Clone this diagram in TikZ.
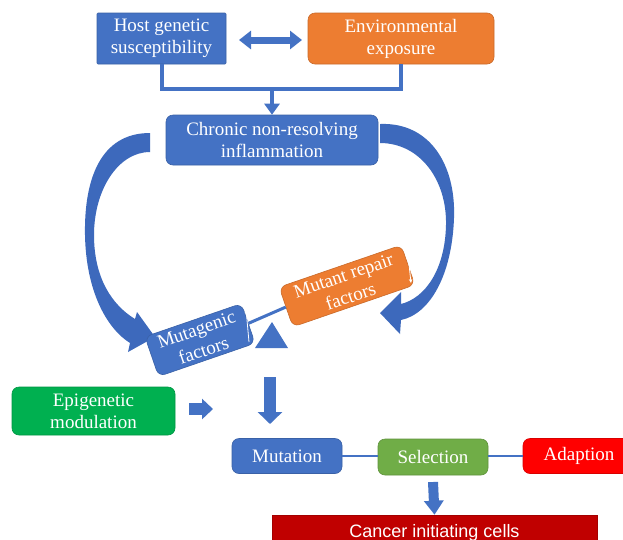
\documentclass[tikz,border=0pt]{standalone}
\usepackage{fontspec}
\setmainfont{Liberation Serif}
\newfontfamily\cancerfont{Liberation Sans}
\usetikzlibrary{arrows.meta}
\definecolor{pblue}{HTML}{4472C4}
\definecolor{dblue}{HTML}{3D69BC}
\definecolor{porange}{HTML}{ED7D31}
\definecolor{pgreen}{HTML}{00B050}
\definecolor{lgreen}{HTML}{70AD47}
\definecolor{pred}{HTML}{FF0000}
\definecolor{dred}{HTML}{C00000}
\begin{document}
\begin{tikzpicture}[x=1pt,y=-1pt,
  box/.style={text=white, align=center, font=\fontsize{19}{22}\selectfont, inner sep=0pt, rounded corners=7pt, line width=0.6pt},
  bluebox/.style={box, fill=pblue, draw=pblue!85!black},
  conn/.style={pblue, line width=4pt},
  blockarrow/.style={pblue, line width=#1},
  whitearrow/.style={white, line width=0.8pt, -{Stealth[length=4pt,width=3.5pt]}}]
\clip (0,0) rectangle (623,539);
\fill[white] (0,0) rectangle (623,539);

% top boxes
\node[bluebox, rounded corners=1pt, minimum width=129pt, minimum height=51pt] (host) at (161.5,38.5) {Host genetic\\susceptibility};
\node[box, fill=porange, draw=porange!85!black, minimum width=186pt, minimum height=51pt] (env) at (401,38.5) {Environmental\\exposure};
\node[bluebox, minimum width=212pt, minimum height=50pt] (chr) at (272,140) {Chronic non-resolving\\inflammation};

\coordinate (dl) at (239,40);
\coordinate (dr) at (302,40);
\draw[pblue, line width=7pt, {Triangle[width=18pt,length=12pt]}-{Triangle[width=18pt,length=12pt]}] (dl) -- (dr);

\draw[conn] (host.south) -- ++(0,25) coordinate (hb) -| (env.south);
\draw[conn, -{Triangle[width=15pt,length=11pt]}] (chr.north |- hb) -- (chr.north);

% curved arrows
\fill[dblue] (150,133) .. controls (100,133) and (84,180) .. (85,235)
  .. controls (86,290) and (106,328) .. (130,343)
  -- (128,352) -- (155,337) -- (137,312) -- (135,319)
  .. controls (112,305) and (94,278) .. (94,235)
  .. controls (94,190) and (118,152) .. (150,152) -- cycle;
\fill[dblue] (380,124) .. controls (430,122) and (456,165) .. (454,218)
  .. controls (452,275) and (430,314) .. (401,320)
  -- (400,334) -- (380,313) -- (401,292) -- (401,304)
  .. controls (425,298) and (445,270) .. (446,225)
  .. controls (447,180) and (420,143) .. (380,143) -- cycle;

% seesaw
\node[bluebox, rotate=19, minimum width=102pt, minimum height=42pt, font=\fontsize{19}{22}\selectfont] (mg) at (200,340) {Mutagenic\\factors};
\node[box, fill=porange, draw=porange!85!black, rotate=19, minimum width=129pt, minimum height=42pt, font=\fontsize{19}{22}\selectfont] (mr) at (347,286) {Mutant repair\\factors};
\draw[pblue, line width=3pt] (mg.east) -- (mr.west);
\fill[pblue] (272,322) -- (288,348) -- (255,348) -- cycle;
\draw[whitearrow] (249,342) -- (246,309);
\draw[whitearrow] (408,255) -- (411,283);

% lower part
\node[box, fill=pgreen, draw=pgreen!85!black, minimum width=163pt, minimum height=48pt] (epi) at (93.5,411) {Epigenetic\\modulation};
\coordinate (ea1) at (189,409);
\coordinate (ea2) at (213,409);
\draw[blockarrow=12pt, -{Triangle[width=20pt,length=11pt]}] (ea1) -- (ea2);
\coordinate (da1) at (270,377);
\coordinate (da2) at (270,424);
\draw[blockarrow=12pt, -{Triangle[width=24pt,length=12pt]}] (da1) -- (da2);

\node[bluebox, minimum width=110pt, minimum height=35pt] (mut) at (287,456) {Mutation};
\node[box, fill=lgreen, draw=lgreen!85!black, minimum width=110pt, minimum height=36pt] (sel) at (433,457) {Selection};
\node[box, fill=pred, draw=pred!85!black, minimum width=112pt, minimum height=35pt] (ada) at (579,456) {Adaption};
\draw[pblue, line width=2.5pt] (mut.east) -- (sel.west |- mut.east);
\draw[pblue, line width=2.5pt] (sel.east |- ada.west) -- (ada.west);

\node[fill=dred, draw=dred!85!black, line width=0.6pt, text=white, minimum width=325pt, minimum height=36pt, inner sep=0pt, font=\cancerfont\fontsize{18}{20}\selectfont] (cic) at (434.5,533) {Cancer initiating cells};
\draw[blockarrow=10pt, -{Triangle[width=19pt,length=14pt]}] (sel.south |- 0,482) -- (cic.north);
\end{tikzpicture}
\end{document}
